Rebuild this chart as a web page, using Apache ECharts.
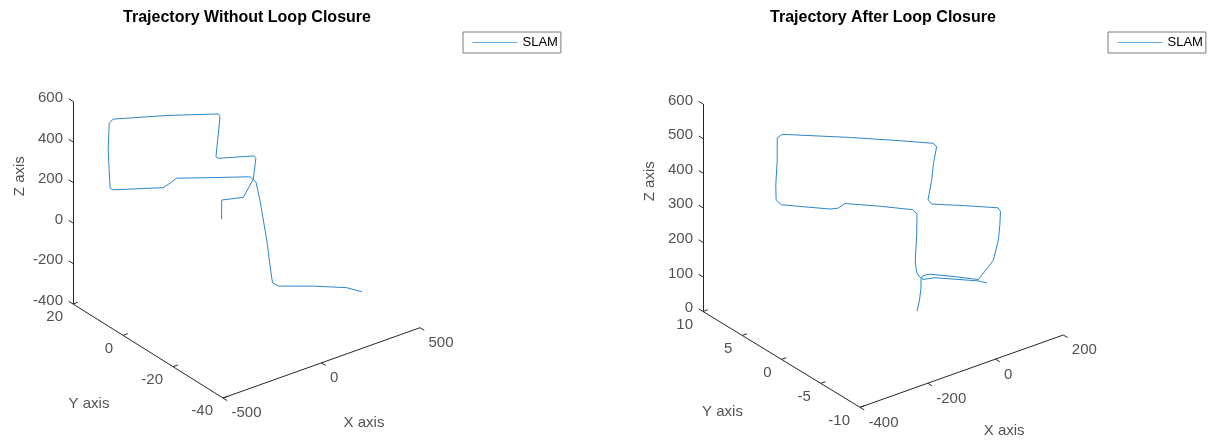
<!DOCTYPE html>
<html>
<head>
<meta charset="utf-8">
<script src="https://cdn.jsdelivr.net/npm/echarts@6/dist/echarts.min.js"></script>
<style>
  html, body { margin: 0; padding: 0; background: #ffffff; }
  #chart { width: 1211px; height: 442px; }
</style>
</head>
<body>
<div id="chart"></div>
<script>
// ---- Estimated trajectory before loop closure (x, y, z) ----
const noLoopX = [0, 1, 6, 70, 103, 111, 105, -10, -18, -5, -10, -177, -350, -363, -366, -360, -350, -188, -166, -145, -5, 92, 111, 124, 146, 157, 165, 184, 297, 405, 453];
const noLoopY = [0, 0, -0.3, -3.2, -4.6, -5.0, -4.7, 0.5, 0.8, 0.2, 0.5, 8.0, 15.8, 16.3, 16.5, 16.2, 15.8, 8.5, 7.5, 6.5, 0.2, -4.1, -5.0, -5.6, -6.6, -7.1, -7.4, -8.3, -13.4, -18.2, -20.4];
const noLoopZ = [0, 94, 101, 108, 197, 300, 312, 300, 308, 506, 519, 511, 493, 473, 341, 152, 144, 155, 177, 202, 206, 209, 185, 94, -103, -235, -314, -330, -330, -338, -358];

// ---- Estimated trajectory after loop closure (x, y, z) ----
const closedX = [0, 5, 7, 7, 11, 24, 71, 114, 130, 142, 152, 154, 156, 151, 86, 27, 21, 27, 30, 37, 30, -32, -125, -252, -262, -262, -264, -263, -254, -162, -147, -134, -69, -7, 0, -1, -3, -1, 4, 11, 34, 114, 130];
const closedY = [0, -0.1, -0.2, -0.2, -0.3, -0.6, -1.8, -2.9, -3.3, -3.6, -3.8, -3.9, -3.9, -3.8, -2.2, -0.7, -0.5, -0.7, -0.8, -0.9, -0.8, 0.8, 3.1, 6.3, 6.5, 6.5, 6.6, 6.6, 6.3, 4.1, 3.7, 3.4, 1.7, 0.2, 0, 0, 0.1, 0, -0.1, -0.3, -0.8, -2.9, -3.3];
const closedZ = [0, 32, 67, 93, 103, 107, 100, 92, 124, 148, 206, 249, 288, 299, 306, 310, 322, 379, 428, 475, 486, 493, 503, 512, 502, 437, 365, 322, 309, 295, 298, 311, 304, 293, 281, 220, 142, 113, 100, 92, 96, 88, 82];

// ---- Tick values ----
const noLoopXTicks = [-500, 0, 500];
const noLoopYTicks = [-40, -20, 0, 20];
const noLoopZTicks = [-400, -200, 0, 200, 400, 600];
const closedXTicks = [-400, -200, 0, 200];
const closedYTicks = [-10, -5, 0, 5, 10];
const closedZTicks = [0, 100, 200, 300, 400, 500, 600];

const SERIES_NAME = 'SLAM';
const AXIS_NAMES = ['X axis', 'Y axis', 'Z axis'];

const FONT = '"Liberation Sans", Arial, Helvetica, sans-serif';
const AXIS_COLOR = '#262626';
const LINE_COLOR = '#2a86cb';

// Each panel: a 3-D box seen from a fixed camera. The corner (xmin, ymin, zmin)
// sits at `origin`, and each span vector is how far the full axis range runs on screen.
const panels = [
  {
    title: 'Trajectory Without Loop Closure', titleX: 247,
    xs: noLoopX, ys: noLoopY, zs: noLoopZ,
    xTicks: noLoopXTicks, yTicks: noLoopYTicks, zTicks: noLoopZTicks,
    origin: [223, 398], spanX: [197, -70.3], spanY: [-150, -94], spanZ: [0, -202.6],
    legendLeft: 463
  },
  {
    title: 'Trajectory After Loop Closure', titleX: 883,
    xs: closedX, ys: closedY, zs: closedZ,
    xTicks: closedXTicks, yTicks: closedYTicks, zTicks: closedZTicks,
    origin: [860, 407.3], spanX: [203.3, -72.3], spanY: [-157, -95.8], spanZ: [0, -207.5],
    legendLeft: 1108
  }
];

function range(arr) { return [Math.min.apply(null, arr), Math.max.apply(null, arr)]; }
function unit(v) { const l = Math.hypot(v[0], v[1]); return [v[0] / l, v[1] / l]; }

function makeProjection(p) {
  const lx = range(p.xTicks), ly = range(p.yTicks), lz = range(p.zTicks);
  const proj = function (x, y, z) {
    const fx = (x - lx[0]) / (lx[1] - lx[0]);
    const fy = (y - ly[0]) / (ly[1] - ly[0]);
    const fz = (z - lz[0]) / (lz[1] - lz[0]);
    return [
      p.origin[0] + fx * p.spanX[0] + fy * p.spanY[0] + fz * p.spanZ[0],
      p.origin[1] + fx * p.spanX[1] + fy * p.spanY[1] + fz * p.spanZ[1]
    ];
  };
  proj.lx = lx; proj.ly = ly; proj.lz = lz;
  return proj;
}

function labelSeries(items, align, offset, rotate, style) {
  return {
    type: 'scatter', silent: true, symbolSize: 1, z: 5,
    itemStyle: { color: 'rgba(0,0,0,0)' },
    emphasis: { disabled: true },
    data: items,
    label: Object.assign({
      show: true, position: 'inside', align: align, verticalAlign: 'middle',
      offset: offset, rotate: rotate || 0,
      formatter: function (d) { return d.value[2]; },
      color: AXIS_COLOR, fontSize: 15, fontFamily: FONT
    }, style || {})
  };
}

const series = [];
const graphics = [];
const legends = [];
const TICK_LEN = 5;

panels.forEach(function (p) {
  const P = makeProjection(p);
  const lx = P.lx, ly = P.ly, lz = P.lz;

  // trajectory
  const pts = p.xs.map(function (x, i) { return P(x, p.ys[i], p.zs[i]); });
  series.push({
    name: SERIES_NAME, type: 'line', data: pts, symbol: 'none', showSymbol: false,
    lineStyle: { color: LINE_COLOR, width: 1 }, itemStyle: { color: LINE_COLOR },
    clip: false, silent: true, z: 3
  });

  // axis lines and ticks
  const segs = [];
  segs.push({ coords: [P(lx[0], ly[0], lz[0]), P(lx[1], ly[0], lz[0])] });
  segs.push({ coords: [P(lx[0], ly[1], lz[0]), P(lx[0], ly[0], lz[0])] });
  segs.push({ coords: [P(lx[0], ly[1], lz[0]), P(lx[0], ly[1], lz[1])] });
  const dirX = unit(p.spanX), dirY = unit(p.spanY);
  const xTickDir = [-dirY[0] * TICK_LEN, -dirY[1] * TICK_LEN];
  const yTickDir = [dirX[0] * TICK_LEN, dirX[1] * TICK_LEN];
  const zTickDir = [dirY[0] * TICK_LEN, dirY[1] * TICK_LEN];
  const xLab = [], yLab = [], zLab = [];
  p.xTicks.forEach(function (t) {
    const a = P(t, ly[0], lz[0]);
    segs.push({ coords: [a, [a[0] + xTickDir[0], a[1] + xTickDir[1]]] });
    xLab.push([a[0], a[1], String(t)]);
  });
  p.yTicks.forEach(function (t) {
    const a = P(lx[0], t, lz[0]);
    segs.push({ coords: [a, [a[0] + yTickDir[0], a[1] + yTickDir[1]]] });
    yLab.push([a[0], a[1], String(t)]);
  });
  p.zTicks.forEach(function (t) {
    const a = P(lx[0], ly[1], t);
    segs.push({ coords: [a, [a[0] + zTickDir[0], a[1] + zTickDir[1]]] });
    zLab.push([a[0], a[1], String(t)]);
  });
  series.push({
    type: 'lines', coordinateSystem: 'cartesian2d', silent: true, z: 2,
    lineStyle: { color: AXIS_COLOR, width: 1, opacity: 1 },
    data: segs
  });

  series.push(labelSeries(xLab, 'left', [8.5, 15.3]));
  series.push(labelSeries(yLab, 'right', [-10, 13.3]));
  series.push(labelSeries(zLab, 'right', [-10, -3.4]));

  // axis names at the middle of each axis (the z name is rotated, so its offset is in the rotated frame)
  const mx = P((lx[0] + lx[1]) / 2, ly[0], lz[0]);
  const my = P(lx[0], (ly[0] + ly[1]) / 2, lz[0]);
  const mz = P(lx[0], ly[1], (lz[0] + lz[1]) / 2);
  series.push(labelSeries([[mx[0], mx[1], AXIS_NAMES[0]]], 'center', [42.5, 60]));
  series.push(labelSeries([[my[0], my[1], AXIS_NAMES[1]]], 'center', [-59, 52.5]));
  series.push(labelSeries([[mz[0], mz[1], AXIS_NAMES[2]]], 'center', [26.5, -53], 90));

  graphics.push({
    type: 'text', x: p.titleX, y: 18, silent: true,
    style: {
      text: p.title, font: 'bold 16px ' + FONT, fill: '#000000',
      textAlign: 'center', textVerticalAlign: 'middle'
    }
  });

  legends.push({
    data: [SERIES_NAME], left: p.legendLeft, top: 32, orient: 'vertical',
    selectedMode: false, itemWidth: 45, itemHeight: 14,
    padding: [4, 3, 4, 9], borderColor: '#7a7a7a', borderWidth: 1,
    backgroundColor: '#ffffff',
    textStyle: { fontSize: 13, color: '#000000', fontFamily: FONT },
    itemStyle: { opacity: 0 },
    lineStyle: { color: '#6aaee0', width: 1 }
  });
});

const chart = echarts.init(document.getElementById('chart'), null, { renderer: 'canvas' });
chart.setOption({
  animation: false,
  backgroundColor: '#ffffff',
  grid: { left: 0, top: 0, width: 1211, height: 442, containLabel: false },
  xAxis: { type: 'value', min: 0, max: 1211, show: false },
  yAxis: { type: 'value', min: 0, max: 442, inverse: true, show: false },
  legend: legends,
  graphic: graphics,
  series: series
});
</script>
</body>
</html>
